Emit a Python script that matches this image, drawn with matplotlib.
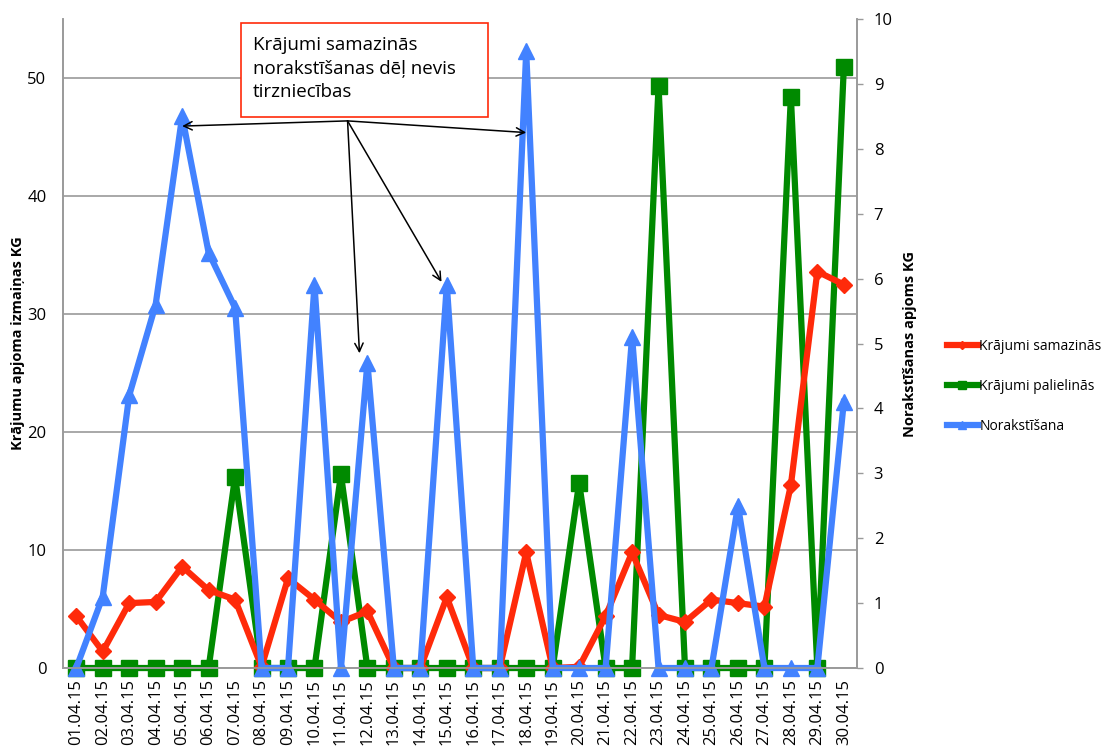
import matplotlib.pyplot as plt
from matplotlib.patches import Rectangle

plt.rcParams['font.family'] = ['Open Sans', 'DejaVu Sans']

dates = ['%02d.04.15' % d for d in range(1, 31)]

# Krājumi samazinās (left axis, KG)
decrease = [4.4, 1.4, 5.5, 5.6, 8.6, 6.6, 5.8, 0.1, 7.6, 5.8,
            3.9, 4.8, 0, 0, 6.0, 0, 0, 9.8, 0, 0.1,
            4.4, 9.8, 4.5, 3.9, 5.8, 5.5, 5.2, 15.5, 33.6, 32.5]
# Krājumi palielinās (left axis, KG)
increase = [0, 0, 0, 0, 0, 0, 16.2, 0, 0, 0,
            16.4, 0, 0, 0, 0, 0, 0, 0, 0, 15.7,
            0, 0, 49.3, 0, 0, 0, 0, 48.4, 0, 50.9]
# Norakstīšana (right axis, KG)
writeoff = [0, 1.1, 4.2, 5.6, 8.5, 6.4, 5.55, 0, 0, 5.9,
            0, 4.7, 0, 0, 5.9, 0, 0, 9.5, 0, 0,
            0, 5.1, 0, 0, 0, 2.5, 0, 0, 0, 4.1]

red = '#ff2a0a'
green = '#008a00'
blue = '#4282ff'
grid_c = '#9a9a9a'

fig = plt.figure(figsize=(11.08, 7.51), dpi=100)
ax = fig.add_axes([0.0569, 0.1105, 0.7166, 0.8642])
ax2 = ax.twinx()

x = list(range(len(dates)))
l1, = ax.plot(x, decrease, color=red, lw=4.5, marker='D', ms=8, zorder=3,
              clip_on=False, label='Krājumi samazinās')
l2, = ax.plot(x, increase, color=green, lw=4.5, marker='s', ms=11, zorder=2,
              clip_on=False, label='Krājumi palielinās')
l3, = ax2.plot(x, writeoff, color=blue, lw=4.5, marker='^', ms=11,
               clip_on=False, label='Norakstīšana')

ax.set_xlim(-0.5, len(dates) - 0.5)
ax.set_ylim(0, 55)
ax2.set_ylim(0, 10)
ax.set_yticks([0, 10, 20, 30, 40, 50])
ax2.set_yticks(range(0, 11))
ax.set_xticks(x)
ax.set_xticklabels(dates, rotation=90, fontsize=12)
ax.tick_params(axis='x', length=0, pad=8)
ax.tick_params(axis='y', length=0, pad=12, labelsize=12)
ax2.tick_params(axis='y', length=4, width=1, color=grid_c, pad=8, labelsize=12)
ax.yaxis.grid(True, color=grid_c, lw=1.2)
ax.set_axisbelow(True)

for a in (ax, ax2):
    a.spines['top'].set_visible(False)
    for s in ('left', 'right', 'bottom'):
        a.spines[s].set_color(grid_c)
        a.spines[s].set_linewidth(1.2)

ax.set_ylabel('Krājumu apjoma izmaiņas KG', fontsize=10.5, fontweight='bold')
ax2.set_ylabel('Norakstīšanas apjoms KG', fontsize=10.5, fontweight='bold')
ax.yaxis.set_label_coords(-0.048, 0.5)
ax2.yaxis.set_label_coords(1.058, 0.5)

# callout box
fig.patches.append(Rectangle((241 / 1108, 1 - 117 / 751), 247 / 1108, 94 / 751,
                             transform=fig.transFigure, facecolor='white',
                             edgecolor=red, lw=1.2, zorder=5))
fig.text(253 / 1108, 1 - 36 / 751,
         'Krājumi samazinās\nnorakstīšanas dēļ nevis\ntirzniecības',
         fontsize=13.5, va='top', ha='left', linespacing=1.4, zorder=6)

start = (10.25, 8.43)
targets = [(4.0, 8.35), (17.0, 8.25), (10.7, 4.85), (13.8, 5.95)]
for t in targets:
    ax2.annotate('', xy=t, xytext=start,
                 arrowprops=dict(arrowstyle='->,head_length=0.6,head_width=0.3',
                                 color='black', lw=1.1, shrinkA=0, shrinkB=0),
                 zorder=7)

fig.legend(handles=[l1, l2, l3], loc='upper left',
           bbox_to_anchor=(934 / 1108, 1 - 326 / 751), frameon=False,
           fontsize=10, labelspacing=1.8, handlelength=2.3, handletextpad=0.05,
           markerscale=0.55)

fig.savefig('out.png', dpi=100)
